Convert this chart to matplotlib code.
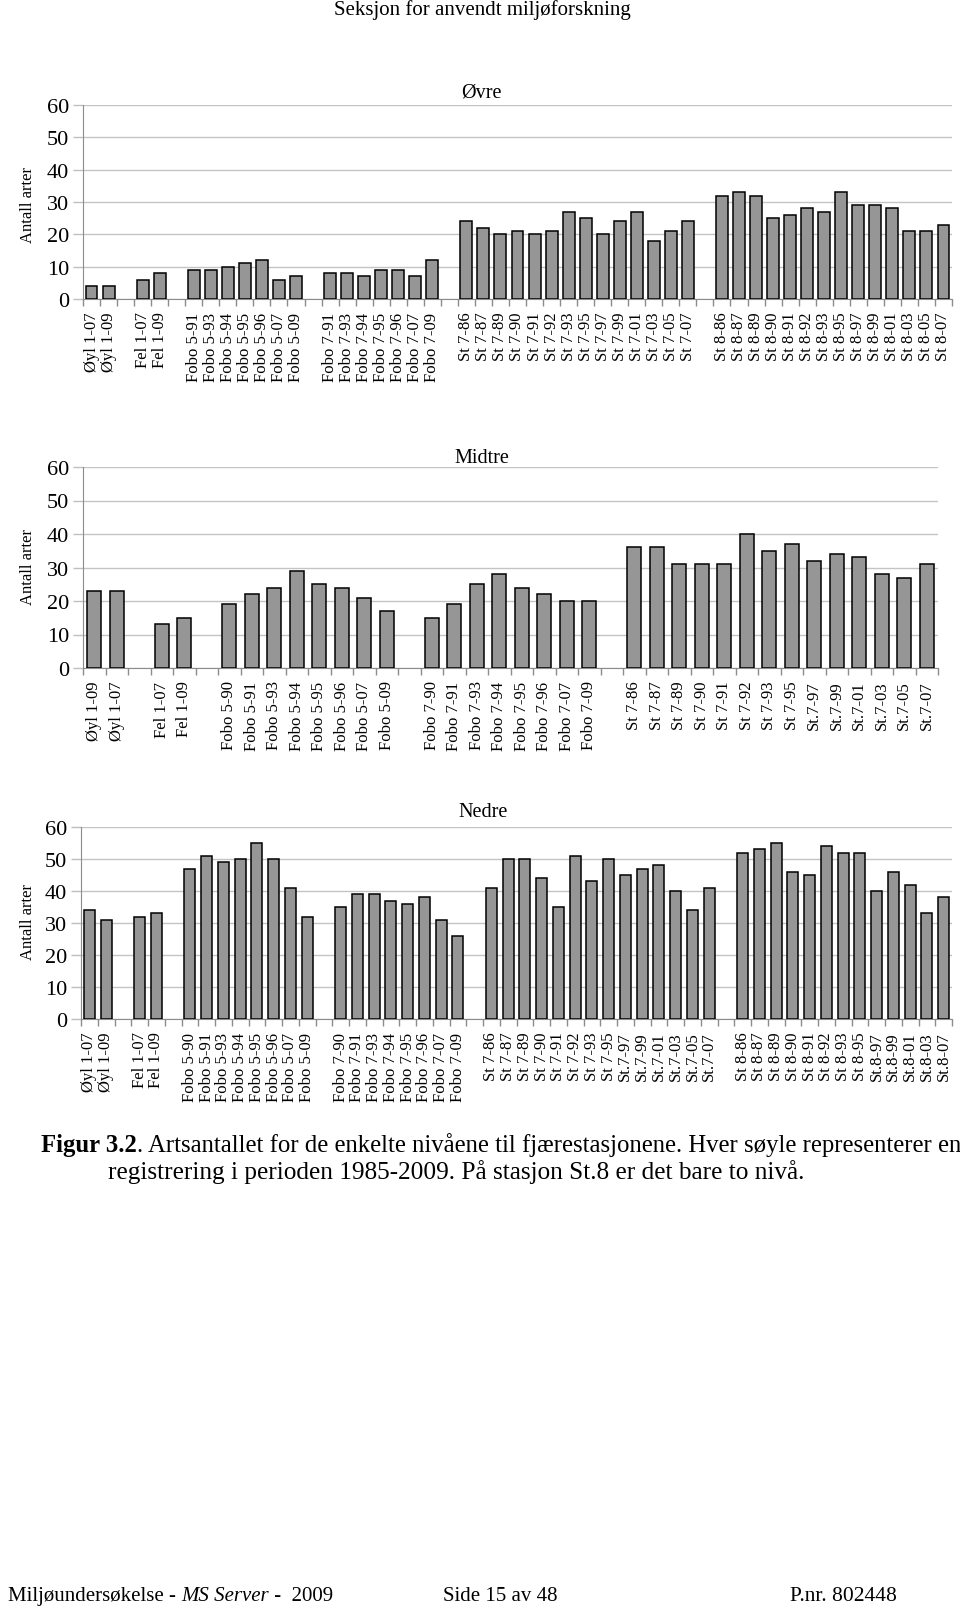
import numpy as np
import matplotlib.pyplot as plt

plt.rcParams['font.family'] = ['Liberation Serif', 'DejaVu Serif']

# %%
# Data (None = empty slot between stations)

ovre_labels = ["Øyl 1-07", "Øyl 1-09", "",
               "Fel 1-07", "Fel 1-09", "",
               "Fobo 5-91", "Fobo 5-93", "Fobo 5-94", "Fobo 5-95", "Fobo 5-96", "Fobo 5-07", "Fobo 5-09", "",
               "Fobo 7-91", "Fobo 7-93", "Fobo 7-94", "Fobo 7-95", "Fobo 7-96", "Fobo 7-07", "Fobo 7-09", "",
               "St 7-86", "St 7-87", "St 7-89", "St 7-90", "St 7-91", "St 7-92", "St 7-93", "St 7-95",
               "St 7-97", "St 7-99", "St 7-01", "St 7-03", "St 7-05", "St 7-07", "",
               "St 8-86", "St 8-87", "St 8-89", "St 8-90", "St 8-91", "St 8-92", "St 8-93", "St 8-95",
               "St 8-97", "St 8-99", "St 8-01", "St 8-03", "St 8-05", "St 8-07"]
ovre_values = [4, 4, None,
               6, 8, None,
               9, 9, 10, 11, 12, 6, 7, None,
               8, 8, 7, 9, 9, 7, 12, None,
               24, 22, 20, 21, 20, 21, 27, 25, 20, 24, 27, 18, 21, 24, None,
               32, 33, 32, 25, 26, 28, 27, 33, 29, 29, 28, 21, 21, 23]

midtre_labels = ["Øyl 1-09", "Øyl 1-07", "",
                 "Fel 1-07", "Fel 1-09", "",
                 "Fobo 5-90", "Fobo 5-91", "Fobo 5-93", "Fobo 5-94", "Fobo 5-95", "Fobo 5-96", "Fobo 5-07", "Fobo 5-09", "",
                 "Fobo 7-90", "Fobo 7-91", "Fobo 7-93", "Fobo 7-94", "Fobo 7-95", "Fobo 7-96", "Fobo 7-07", "Fobo 7-09", "",
                 "St 7-86", "St 7-87", "St 7-89", "St 7-90", "St 7-91", "St 7-92", "St 7-93", "St 7-95",
                 "St.7-97", "St.7-99", "St.7-01", "St.7-03", "St.7-05", "St.7-07"]
midtre_values = [23, 23, None,
                 13, 15, None,
                 19, 22, 24, 29, 25, 24, 21, 17, None,
                 15, 19, 25, 28, 24, 22, 20, 20, None,
                 36, 36, 31, 31, 31, 40, 35, 37, 32, 34, 33, 28, 27, 31]

nedre_labels = ["Øyl 1-07", "Øyl 1-09", "",
                "Fel 1-07", "Fel 1-09", "",
                "Fobo 5-90", "Fobo 5-91", "Fobo 5-93", "Fobo 5-94", "Fobo 5-95", "Fobo 5-96", "Fobo 5-07", "Fobo 5-09", "",
                "Fobo 7-90", "Fobo 7-91", "Fobo 7-93", "Fobo 7-94", "Fobo 7-95", "Fobo 7-96", "Fobo 7-07", "Fobo 7-09", "",
                "St 7-86", "St 7-87", "St 7-89", "St 7-90", "St 7-91", "St 7-92", "St 7-93", "St 7-95",
                "St.7-97", "St.7-99", "St.7-01", "St.7-03", "St.7-05", "St.7-07", "",
                "St 8-86", "St 8-87", "St 8-89", "St 8-90", "St 8-91", "St 8-92", "St 8-93", "St 8-95",
                "St.8-97", "St.8-99", "St.8-01", "St.8-03", "St.8-07"]
nedre_values = [34, 31, None,
                32, 33, None,
                47, 51, 49, 50, 55, 50, 41, 32, None,
                35, 39, 39, 37, 36, 38, 31, 26, None,
                41, 50, 50, 44, 35, 51, 43, 50, 45, 47, 48, 40, 34, 41, None,
                52, 53, 55, 46, 45, 54, 52, 52, 40, 46, 42, 33, 38]

W, H = 960, 1608
fig = plt.figure(figsize=(W / 100, H / 100), dpi=100)


def px(x0, y0, x1, y1):
    # pixel box (top-left origin) -> figure fraction rect
    return [x0 / W, 1 - y1 / H, (x1 - x0) / W, (y1 - y0) / H]


def panel(rect, labels, values, title, title_pos, ylab_y, width):
    ax = fig.add_axes(rect)
    x = np.arange(len(labels))
    v = np.array([np.nan if val is None else val for val in values], float)
    ax.bar(x, v, width=width, color='#969696', edgecolor='black', linewidth=1.1, zorder=3)
    ax.set_xlim(-0.5, len(labels) - 0.5)
    ax.set_ylim(0, 60)
    ax.set_yticks(range(0, 61, 10))
    ax.yaxis.grid(True, color='#c4c4c4', lw=1)
    ax.set_axisbelow(True)
    ax.set_xticks(x, labels, rotation=90, fontsize=12)
    ax.set_xticks(np.arange(len(labels) + 1) - 0.5, minor=True)
    ax.tick_params(axis='x', which='major', length=0, pad=9)
    ax.tick_params(axis='x', which='minor', length=5, width=1, color='#8c8c8c')
    ax.tick_params(axis='y', length=7, width=1, color='#bfbfbf', labelsize=16, pad=3)
    for s in ('top', 'right'):
        ax.spines[s].set_visible(False)
    for s in ('left', 'bottom'):
        ax.spines[s].set_color('#8c8c8c')
    fig.text(title_pos[0] / W, 1 - title_pos[1] / H, title, fontsize=14.5,
             ha='center', va='center')
    fig.text(28 / W, 1 - ylab_y / H, "Antall arter", rotation=90, fontsize=12,
             ha='center', va='center')
    return ax


panel(px(83, 106, 952, 300), ovre_labels, ovre_values, "Øvre", (481, 93), 205, 0.7)
panel(px(83, 468, 938, 669), midtre_labels, midtre_values, "Midtre", (482, 459), 567, 0.62)
panel(px(81, 828, 952, 1020), nedre_labels, nedre_values, "Nedre", (483, 813), 922, 0.66)

# header, caption, footer
fig.text(482 / W, 1 - 10 / H, "Seksjon for anvendt miljøforskning", fontsize=15,
         ha='center', va='center')

fig.canvas.draw()
r = fig.canvas.get_renderer()


def run(parts, x, y, size):
    # write text pieces one after another on one baseline
    for txt, kw in parts:
        t = fig.text(x / W, 1 - y / H, txt, fontsize=size, va='baseline', ha='left', **kw)
        x = t.get_window_extent(renderer=r).x1


run([("Figur 3.2", dict(fontweight='bold')),
     (". Artsantallet for de enkelte nivåene til fjærestasjonene. Hver søyle representerer en", {})],
    41, 1152, 17.8)
run([("registrering i perioden 1985-2009. På stasjon St.8 er det bare to nivå.", {})], 108, 1179, 18.2)

run([("Miljøundersøkelse - ", {}), ("MS Server", dict(style='italic')), (" -  2009", {})], 8, 1601, 15)
run([("Side 15 av 48", {})], 443, 1601, 15)
run([("P.nr. 802448", {})], 790, 1601, 15.5)

fig.savefig("out.png", dpi=100)
